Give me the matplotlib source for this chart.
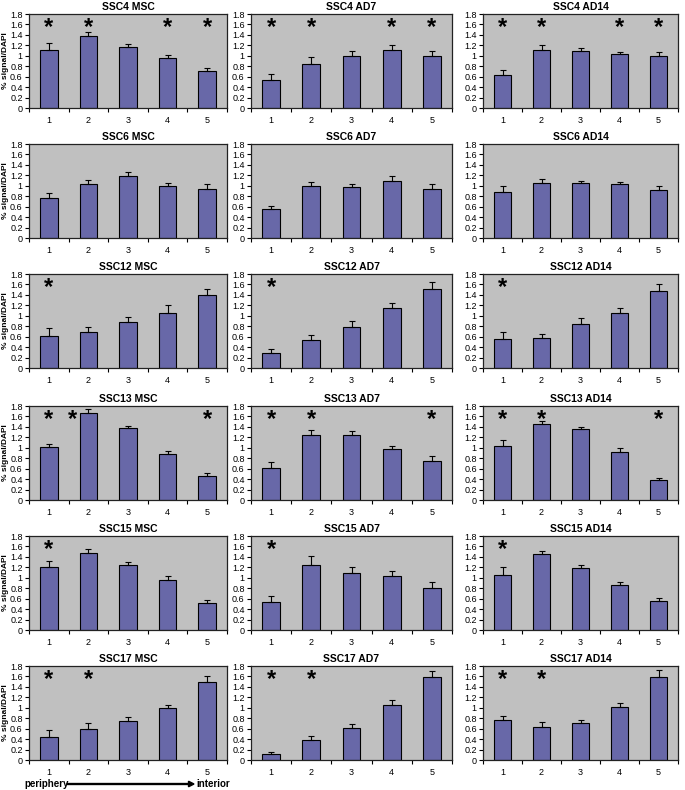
import matplotlib
matplotlib.use("Agg")
import matplotlib.pyplot as plt
import numpy as np

plt.rcParams['font.family'] = ['Liberation Sans', 'DejaVu Sans']

# rows = chromosomes, columns = cell stage
genes = ["SSC4", "SSC6", "SSC12", "SSC13", "SSC15", "SSC17"]
stages = ["MSC", "AD7", "AD14"]
categories = ["1", "2", "3", "4", "5"]

# mean values
vals = {
    ("SSC4", "MSC"):   [1.12, 1.37, 1.17, 0.96, 0.71],
    ("SSC4", "AD7"):   [0.54, 0.85, 1.00, 1.12, 1.00],
    ("SSC4", "AD14"):  [0.63, 1.11, 1.09, 1.03, 0.99],
    ("SSC6", "MSC"):   [0.77, 1.04, 1.18, 1.00, 0.93],
    ("SSC6", "AD7"):   [0.56, 1.00, 0.98, 1.10, 0.93],
    ("SSC6", "AD14"):  [0.88, 1.05, 1.05, 1.03, 0.91],
    ("SSC12", "MSC"):  [0.61, 0.69, 0.89, 1.06, 1.39],
    ("SSC12", "AD7"):  [0.28, 0.54, 0.79, 1.14, 1.52],
    ("SSC12", "AD14"): [0.55, 0.57, 0.84, 1.05, 1.47],
    ("SSC13", "MSC"):  [1.01, 1.67, 1.37, 0.88, 0.46],
    ("SSC13", "AD7"):  [0.62, 1.25, 1.25, 0.98, 0.74],
    ("SSC13", "AD14"): [1.03, 1.46, 1.36, 0.92, 0.39],
    ("SSC15", "MSC"):  [1.21, 1.47, 1.24, 0.96, 0.52],
    ("SSC15", "AD7"):  [0.54, 1.24, 1.10, 1.04, 0.81],
    ("SSC15", "AD14"): [1.06, 1.46, 1.19, 0.86, 0.56],
    ("SSC17", "MSC"):  [0.45, 0.60, 0.74, 0.99, 1.49],
    ("SSC17", "AD7"):  [0.11, 0.39, 0.61, 1.05, 1.58],
    ("SSC17", "AD14"): [0.77, 0.63, 0.71, 1.02, 1.59],
}

# upper error (SE)
errs = {
    ("SSC4", "MSC"):   [0.12, 0.09, 0.05, 0.06, 0.06],
    ("SSC4", "AD7"):   [0.12, 0.13, 0.10, 0.08, 0.10],
    ("SSC4", "AD14"):  [0.10, 0.09, 0.06, 0.05, 0.09],
    ("SSC6", "MSC"):   [0.10, 0.08, 0.08, 0.06, 0.11],
    ("SSC6", "AD7"):   [0.06, 0.07, 0.06, 0.08, 0.10],
    ("SSC6", "AD14"):  [0.11, 0.08, 0.05, 0.05, 0.08],
    ("SSC12", "MSC"):  [0.15, 0.09, 0.09, 0.14, 0.13],
    ("SSC12", "AD7"):  [0.08, 0.10, 0.11, 0.10, 0.12],
    ("SSC12", "AD14"): [0.14, 0.09, 0.12, 0.09, 0.13],
    ("SSC13", "MSC"):  [0.07, 0.08, 0.05, 0.05, 0.06],
    ("SSC13", "AD7"):  [0.10, 0.09, 0.07, 0.05, 0.10],
    ("SSC13", "AD14"): [0.11, 0.06, 0.04, 0.07, 0.04],
    ("SSC15", "MSC"):  [0.12, 0.08, 0.06, 0.08, 0.06],
    ("SSC15", "AD7"):  [0.11, 0.17, 0.10, 0.09, 0.11],
    ("SSC15", "AD14"): [0.14, 0.06, 0.06, 0.05, 0.06],
    ("SSC17", "MSC"):  [0.12, 0.10, 0.08, 0.07, 0.11],
    ("SSC17", "AD7"):  [0.04, 0.07, 0.07, 0.09, 0.12],
    ("SSC17", "AD14"): [0.07, 0.09, 0.05, 0.07, 0.13],
}

# positions (1-based) marked with an asterisk, same for all stages of a row
stars = {
    "SSC4": [1, 2, 4, 5],
    "SSC6": [],
    "SSC12": [1],
    "SSC13": [1, 2, 5],
    "SSC15": [1],
    "SSC17": [1, 2],
}

W, H = 685, 790
fig = plt.figure(figsize=(W / 100, H / 100), dpi=100)

col_lr = [(29, 227), (251, 452), (483, 678)]
row_bottom = [108, 238, 368, 500, 630, 760]
ax_h = 94

bar_col = "#6868a8"
x = np.arange(len(categories))

for r, g in enumerate(genes):
    for c, s in enumerate(stages):
        l, rr = col_lr[c]
        b = row_bottom[r]
        ax = fig.add_axes([l / W, 1 - b / H, (rr - l) / W, ax_h / H])
        ax.set_facecolor("#c0c0c0")
        v = vals[(g, s)]
        e = errs[(g, s)]
        ax.bar(x, v, width=0.44, color=bar_col, edgecolor="black", linewidth=0.8,
               yerr=[np.zeros(len(v)), e], error_kw=dict(ecolor="black", elinewidth=0.8,
                                                         capsize=2.5, capthick=0.8))
        for p in stars[g]:
            xs = p - 1
            if g == "SSC13" and s == "MSC" and p == 2:
                xs = 0.6
            ax.text(xs, 1.55, "*", ha="center", va="center", fontsize=17,
                    fontweight="bold", color="black")
        ax.set_xlim(-0.5, 4.5)
        ax.set_ylim(0, 1.8)
        ax.set_yticks(np.arange(0, 1.81, 0.2))
        ax.set_yticklabels(["0", "0.2", "0.4", "0.6", "0.8", "1", "1.2", "1.4", "1.6", "1.8"])
        ax.set_xticks(np.arange(-0.5, 5, 1))
        ax.set_xticklabels([])
        ax.set_xticks(x, minor=True)
        ax.set_xticklabels(categories, minor=True)
        ax.tick_params(axis="x", which="major", length=3, width=0.8, direction="out")
        ax.tick_params(axis="x", which="minor", length=0, pad=6, labelsize=6.5)
        ax.tick_params(axis="y", length=3, width=0.8, direction="out", labelsize=6.5, pad=1.5)
        for sp in ax.spines.values():
            sp.set_linewidth(0.9)
            sp.set_color("#222222")
        ax.set_title(f"{g} {s}", fontsize=7.5, fontweight="bold", pad=3)
        if c == 0:
            ax.set_ylabel("% signal/DAPI", fontsize=6, fontweight="bold", labelpad=1)

# periphery -> interior label under the bottom-left panel
fig.text(24 / W, 1 - 784 / H, "periphery", fontsize=7, fontweight="bold", va="center")
fig.text(196 / W, 1 - 784 / H, "interior", fontsize=7, fontweight="bold", va="center")
fig.patches.append(matplotlib.patches.FancyArrow(
    67 / W, 1 - 784 / H, 127 / W, 0, width=0.0012, head_width=0.007,
    head_length=0.008, length_includes_head=True, color="black",
    transform=fig.transFigure, figure=fig))

fig.savefig("out.png", dpi=100)
